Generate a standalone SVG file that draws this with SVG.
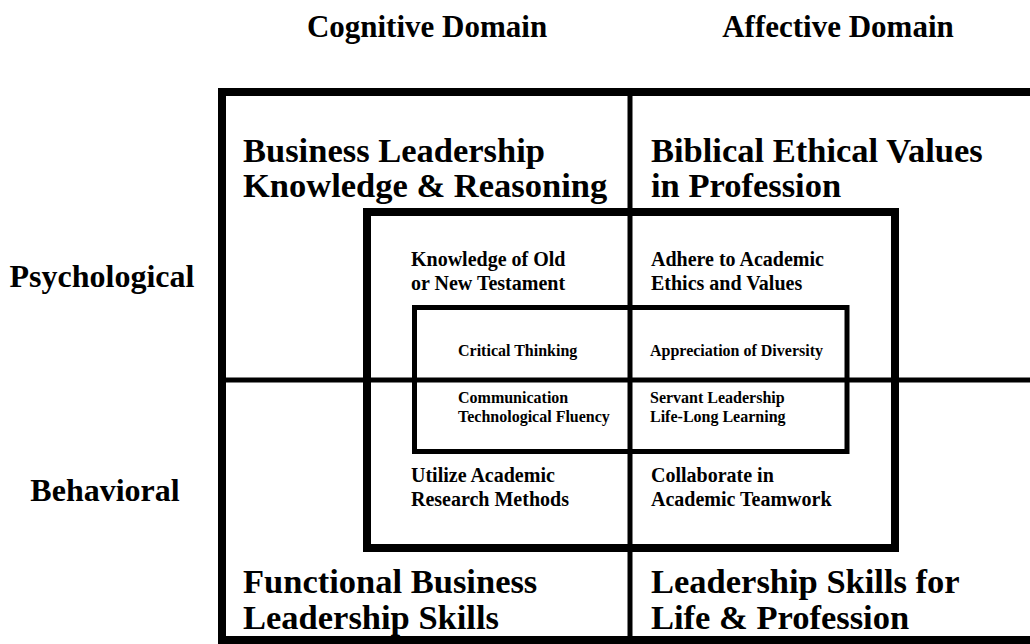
<svg xmlns="http://www.w3.org/2000/svg" width="1030" height="644" viewBox="0 0 1030 644">
  <style>
    text { font-family: "Liberation Serif", "Times New Roman", serif; font-weight: bold; fill: #000; }
    .col { font-size: 31px; }
    .row { font-size: 32px; }
    .quad { font-size: 34.5px; }
    .mid { font-size: 20px; }
    .core { font-size: 16px; }
    .frame { fill: none; stroke: #000; }
  </style>
  <rect width="1030" height="644" fill="#fff"/>

  <!-- column and row headings -->
  <g id="headings">
    <text class="col" x="427" y="37" text-anchor="middle">Cognitive Domain</text>
    <text class="col" x="838" y="37" text-anchor="middle">Affective Domain</text>
    <text class="row" x="102" y="287" text-anchor="middle">Psychological</text>
    <text class="row" x="105" y="501" text-anchor="middle">Behavioral</text>
  </g>

  <!-- grid: outer frame and quadrant dividers -->
  <g id="grid">
    <rect class="frame" x="222" y="92" width="820" height="548" stroke-width="8"/>
    <line x1="630" y1="92" x2="630" y2="640" stroke="#000" stroke-width="5"/>
    <line x1="222" y1="380" x2="1030" y2="380" stroke="#000" stroke-width="5"/>
  </g>

  <!-- middle ring -->
  <g id="middle-ring">
    <rect class="frame" x="367" y="212" width="528" height="336" stroke-width="8"/>
  </g>

  <!-- inner core -->
  <g id="core-ring">
    <rect class="frame" x="414.5" y="307.5" width="432.5" height="144" stroke-width="5"/>
  </g>

  <g id="q-cognitive-psych">
    <text class="quad" x="243" y="162">Business Leadership</text>
    <text class="quad" x="243" y="197">Knowledge &amp; Reasoning</text>
  </g>
  <g id="q-affective-psych">
    <text class="quad" x="651" y="162">Biblical Ethical Values</text>
    <text class="quad" x="651" y="197">in Profession</text>
  </g>
  <g id="q-cognitive-behav">
    <text class="quad" x="243" y="593">Functional Business</text>
    <text class="quad" x="243" y="629">Leadership Skills</text>
  </g>
  <g id="q-affective-behav">
    <text class="quad" x="651" y="593">Leadership Skills for</text>
    <text class="quad" x="651" y="629">Life &amp; Profession</text>
  </g>

  <g id="m-cognitive-psych">
    <text class="mid" x="411" y="266">Knowledge of Old</text>
    <text class="mid" x="411" y="290">or New Testament</text>
  </g>
  <g id="m-affective-psych">
    <text class="mid" x="651" y="266">Adhere to Academic</text>
    <text class="mid" x="651" y="290">Ethics and Values</text>
  </g>
  <g id="m-cognitive-behav">
    <text class="mid" x="411" y="482">Utilize Academic</text>
    <text class="mid" x="411" y="506">Research Methods</text>
  </g>
  <g id="m-affective-behav">
    <text class="mid" x="651" y="482">Collaborate in</text>
    <text class="mid" x="651" y="506">Academic Teamwork</text>
  </g>

  <g id="c-cognitive-psych">
    <text class="core" x="458" y="356">Critical Thinking</text>
  </g>
  <g id="c-affective-psych">
    <text class="core" x="650" y="356">Appreciation of Diversity</text>
  </g>
  <g id="c-cognitive-behav">
    <text class="core" x="458" y="403">Communication</text>
    <text class="core" x="458" y="422">Technological Fluency</text>
  </g>
  <g id="c-affective-behav">
    <text class="core" x="650" y="403">Servant Leadership</text>
    <text class="core" x="650" y="422">Life-Long Learning</text>
  </g>
</svg>
